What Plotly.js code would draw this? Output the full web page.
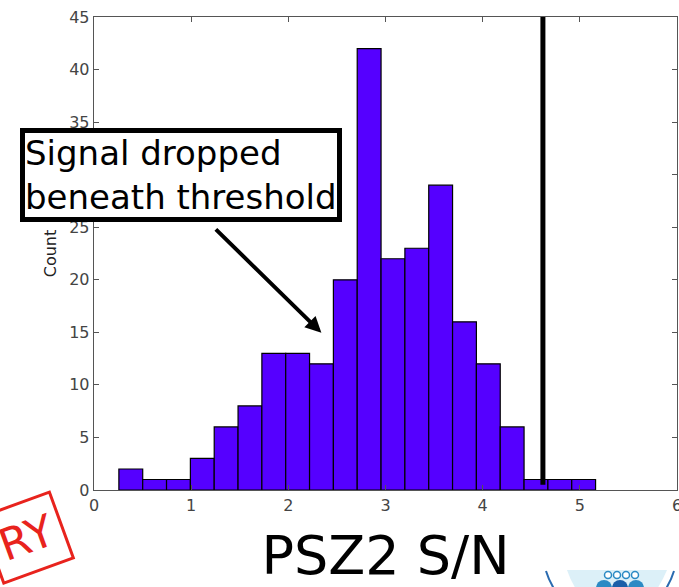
<!DOCTYPE html>
<html>
<head>
<meta charset="utf-8">
<script src="https://cdn.plot.ly/plotly-3.0.1.min.js"></script>
<style>html,body{margin:0;padding:0;background:#fff;}#chart{width:679px;height:587px;}</style>
</head>
<body>
<div id="chart"></div>
<script>
// Histogram of PSZ2 S/N
const binStart = 0.256;
const binWidth = 0.2453;
const counts = [2, 1, 1, 3, 6, 8, 13, 13, 12, 20, 42, 22, 23, 29, 16, 12, 6, 1, 1, 1];
const threshold = 4.62;
const xTickVals = [0, 1, 2, 3, 4, 5, 6];
const yTickVals = [0, 5, 10, 15, 20, 25, 30, 35, 40, 45];
const arrowTip = [2.34, 14.95];

const centers = counts.map((c, i) => binStart + binWidth * (i + 0.5));

// pixel -> paper helpers for decorative elements outside the plot
const PL = 94, PR = 677, PT = 17, PB = 490;
const px = v => (v - PL) / (PR - PL);
const py = v => (PB - v) / (PB - PT);
const P = (x, y) => px(x) + ',' + py(y);
function circ(cx, cy, r, fill, line, lw) {
  return {type: 'circle', xref: 'paper', yref: 'paper',
    x0: px(cx - r), x1: px(cx + r), y0: py(cy + r), y1: py(cy - r),
    fillcolor: fill, line: {color: line, width: lw}};
}
function path(d, fill, line, lw) {
  return {type: 'path', xref: 'paper', yref: 'paper', path: d,
    fillcolor: fill, line: {color: line, width: lw}};
}

const trace = {
  type: 'bar',
  x: centers,
  y: counts,
  width: binWidth,
  marker: {color: '#5500FF', line: {color: '#000000', width: 1.2}},
  hoverinfo: 'x+y'
};

const tickFont = {family: 'DejaVu Sans', size: 16, color: '#444'};
const layout = {
  width: 679, height: 587,
  margin: {l: 94, r: 2, t: 17, b: 97},
  paper_bgcolor: '#fff', plot_bgcolor: '#fff',
  showlegend: false,
  bargap: 0,
  xaxis: {
    range: [0, 6], tickvals: xTickVals, ticktext: xTickVals.map(String),
    ticks: 'inside', ticklen: 5, tickcolor: '#555', tickwidth: 1,
    showline: true, linecolor: '#555', linewidth: 1.3, mirror: 'ticks',
    showgrid: false, zeroline: false, tickfont: tickFont, ticklabeloverflow: 'allow',
    title: {text: 'PSZ2 S/N', font: {family: 'DejaVu Sans', size: 54, color: '#000'}, standoff: 30}
  },
  yaxis: {
    range: [0, 45], tickvals: yTickVals, ticktext: yTickVals.map(String),
    ticks: 'inside', ticklen: 5, tickcolor: '#555', tickwidth: 1,
    showline: true, linecolor: '#555', linewidth: 1.3, mirror: 'ticks',
    showgrid: false, zeroline: false, tickfont: tickFont,
    title: {text: 'Count', font: {family: 'DejaVu Sans', size: 16, color: '#222'}, standoff: 8}
  },
  shapes: [
    {type: 'line', xref: 'x', yref: 'y', x0: threshold, x1: threshold, y0: 0.5, y1: 45,
     line: {color: '#000', width: 5}},
    // partial logo at bottom right
    path('M' + P(567, 570) + ' L' + P(667, 570) + ' Q' + P(662, 582) + ' ' + P(655, 592) +
         ' L' + P(578, 592) + ' Q' + P(571, 582) + ' ' + P(567, 570) + ' Z', '#dcf0f8', 'rgba(0,0,0,0)', 0),
    path('M' + P(546, 571) + ' Q' + P(549, 581) + ' ' + P(556, 592), 'rgba(0,0,0,0)', '#2a6bb0', 2),
    path('M' + P(674, 571) + ' Q' + P(671, 581) + ' ' + P(664, 592), 'rgba(0,0,0,0)', '#2a6bb0', 2),
    circ(604, 588, 8, '#2b8ac4', 'rgba(0,0,0,0)', 0),
    circ(620, 588, 8, '#1a5ea8', 'rgba(0,0,0,0)', 0),
    circ(636, 588, 8, '#2b8ac4', 'rgba(0,0,0,0)', 0),
    circ(608, 575, 3.5, '#fff', '#2b8ac4', 1.5),
    circ(617, 575, 3.5, '#fff', '#2b8ac4', 1.5),
    circ(626, 575, 3.5, '#fff', '#2b8ac4', 1.5),
    circ(635, 575, 3.5, '#fff', '#2b8ac4', 1.5)
  ],
  annotations: [
    {xref: 'x', yref: 'y', x: arrowTip[0], y: arrowTip[1], text: '', showarrow: true,
     ax: -107, ay: -105, arrowhead: 2, arrowsize: 0.8, arrowwidth: 4, arrowcolor: '#000'},
    {xref: 'paper', yref: 'paper', x: 0.15, y: 0.665, xanchor: 'center', yanchor: 'middle',
     text: 'Signal dropped<br>beneath threshold', align: 'left', showarrow: false,
     font: {family: 'DejaVu Sans', size: 34, color: '#000'},
     bgcolor: '#fff', bordercolor: '#000', borderwidth: 5, borderpad: 0},
    {xref: 'paper', yref: 'paper', x: -0.115, y: -0.1, xanchor: 'center', yanchor: 'middle',
     text: 'RY', showarrow: false, textangle: -20,
     font: {family: 'DejaVu Sans', size: 44, color: '#e8231d'},
     bordercolor: '#e8231d', borderwidth: 3, borderpad: 8}
  ]
};

Plotly.newPlot('chart', [trace], layout, {staticPlot: true});
</script>
</body>
</html>
